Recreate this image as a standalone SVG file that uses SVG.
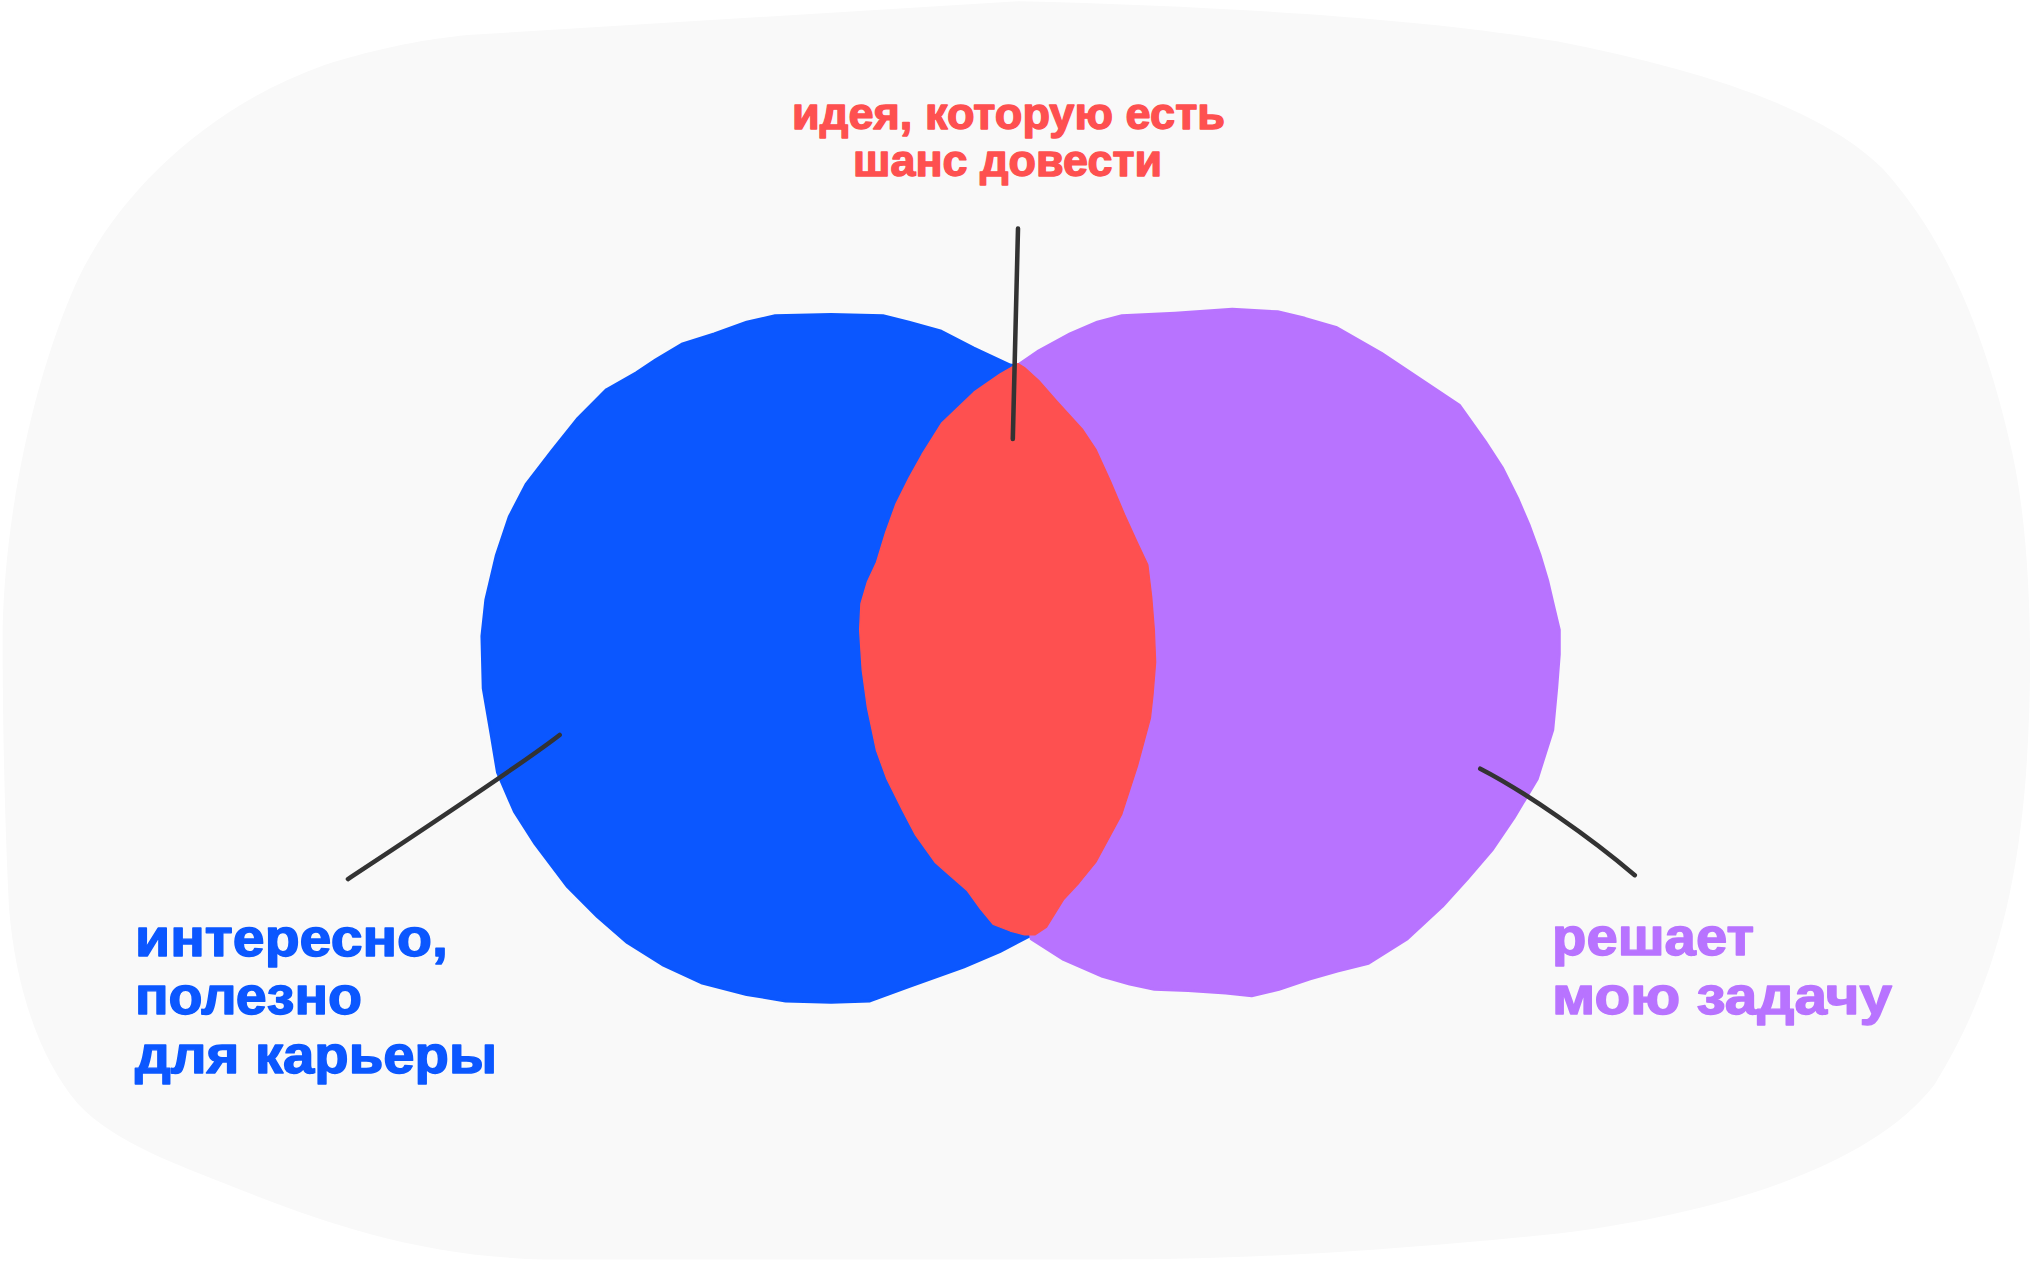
<svg xmlns="http://www.w3.org/2000/svg" width="2036" height="1261" viewBox="0 0 2036 1261">
<style>
.bg{fill:#f9f9f9}
.blue{fill:#0b57ff;stroke:#0b57ff;stroke-width:2;stroke-linejoin:round}
.purple{fill:#b873ff;stroke:#b873ff;stroke-width:2;stroke-linejoin:round}
.red{fill:#fe5050;stroke:#fe5050;stroke-width:1;stroke-linejoin:round}
.conn{fill:none;stroke:#333333;stroke-width:3.5;stroke-linecap:round;stroke-linejoin:round}
.lbl{font-family:"Liberation Sans",Arial,sans-serif;font-weight:bold;stroke-width:1.4;stroke-linejoin:round}
.tr{fill:#fe5050;stroke:#fe5050;font-size:45px}
.tb{fill:#0b57ff;stroke:#0b57ff;font-size:51px}
.tp{fill:#b873ff;stroke:#b873ff;font-size:51px}
</style>
<rect width="2036" height="1261" fill="#ffffff"/>
<g transform="scale(1.29847)">
<path id="background" class="bg" d="M2,485 C4,390 28,285 60,215 C92,148 160,82 250,50 C295,36 330,30 360,27 L784,1 C950,5 1100,15 1200,32 C1300,52 1400,80 1450,130 C1500,185 1530,260 1550,350 C1565,420 1566,520 1560,600 C1552,700 1530,770 1490,835 C1440,900 1320,935 1200,950 C1050,965 950,970 850,970 L420,970 C330,968 260,945 200,922 C140,898 90,882 60,850 C30,815 12,760 7,700 C3,620 2,540 2,485 Z"/>
<g id="career">
<polygon class="blue" points="785,282 778,281 750,268 725,255 700,248 680,243 640,242 597,243 575,248 550,257 525,265 505,277 490,287 467,300 445,322 425,347 405,373 392,398 382,428 374,462 371,490 372,530 378,565 383,595 396,625 412,650 437,683 460,706 483,726 510,743 540,757 575,766 605,771 640,772 670,771 700,760 742,745 770,733 795,720 800,600 805,450 795,330"/>
</g>
<g id="task">
<polygon class="purple" points="784,281 800,270 824,257 845,248 864,243 905,241 949,238 984,240 1005,245 1029,252 1064,272 1094,292 1124,312 1144,340 1157,360 1169,384 1178,405 1186,427 1192,447 1196,464 1201,485 1201,504 1199,530 1196,562 1184,600 1166,630 1149,655 1130,677 1111,698 1084,723 1054,742 1030,748 1009,754 985,762 964,767 944,765 915,763 889,762 870,758 849,752 819,739 794,723 780,600 775,450 780,330"/>
</g>
<g id="idea">
<polygon class="red" points="784,280 789,283 800,293 814,309 834,331 844,346 855,370 866,396 876,418 884,435 887,460 889,485 890,510 888,535 886,553 876,590 864,627 844,664 831,680 819,693 806,714 797,720 789,720 778,717 765,712 755,700 745,686 730,673 720,664 705,643 695,624 683,600 675,578 668,545 664,516 662,485 663,465 668,448 675,433 682,410 690,388 700,368 710,350 725,326 750,302 770,288"/>
</g>
<g id="connectors">
<path class="conn" d="M784,176 L780,338"/>
<path class="conn" d="M268,677 C330,636 400,590 431,566"/>
<path class="conn" d="M1140,592 C1175,610 1225,645 1259,674"/>
</g>
</g>
<g id="label-idea" class="lbl tr">
<text x="792" y="129" textLength="433" lengthAdjust="spacingAndGlyphs">идея, которую есть</text>
<text x="853" y="176" textLength="309" lengthAdjust="spacingAndGlyphs">шанс довести</text>
</g>
<g id="label-career" class="lbl tb">
<text x="135" y="956" textLength="313" lengthAdjust="spacingAndGlyphs">интересно,</text>
<text x="135" y="1014" textLength="227" lengthAdjust="spacingAndGlyphs">полезно</text>
<text x="135" y="1073" textLength="362" lengthAdjust="spacingAndGlyphs">для карьеры</text>
</g>
<g id="label-task" class="lbl tp">
<text x="1552" y="955" textLength="202" lengthAdjust="spacingAndGlyphs">решает</text>
<text x="1552" y="1014" textLength="340" lengthAdjust="spacingAndGlyphs">мою задачу</text>
</g>
</svg>
